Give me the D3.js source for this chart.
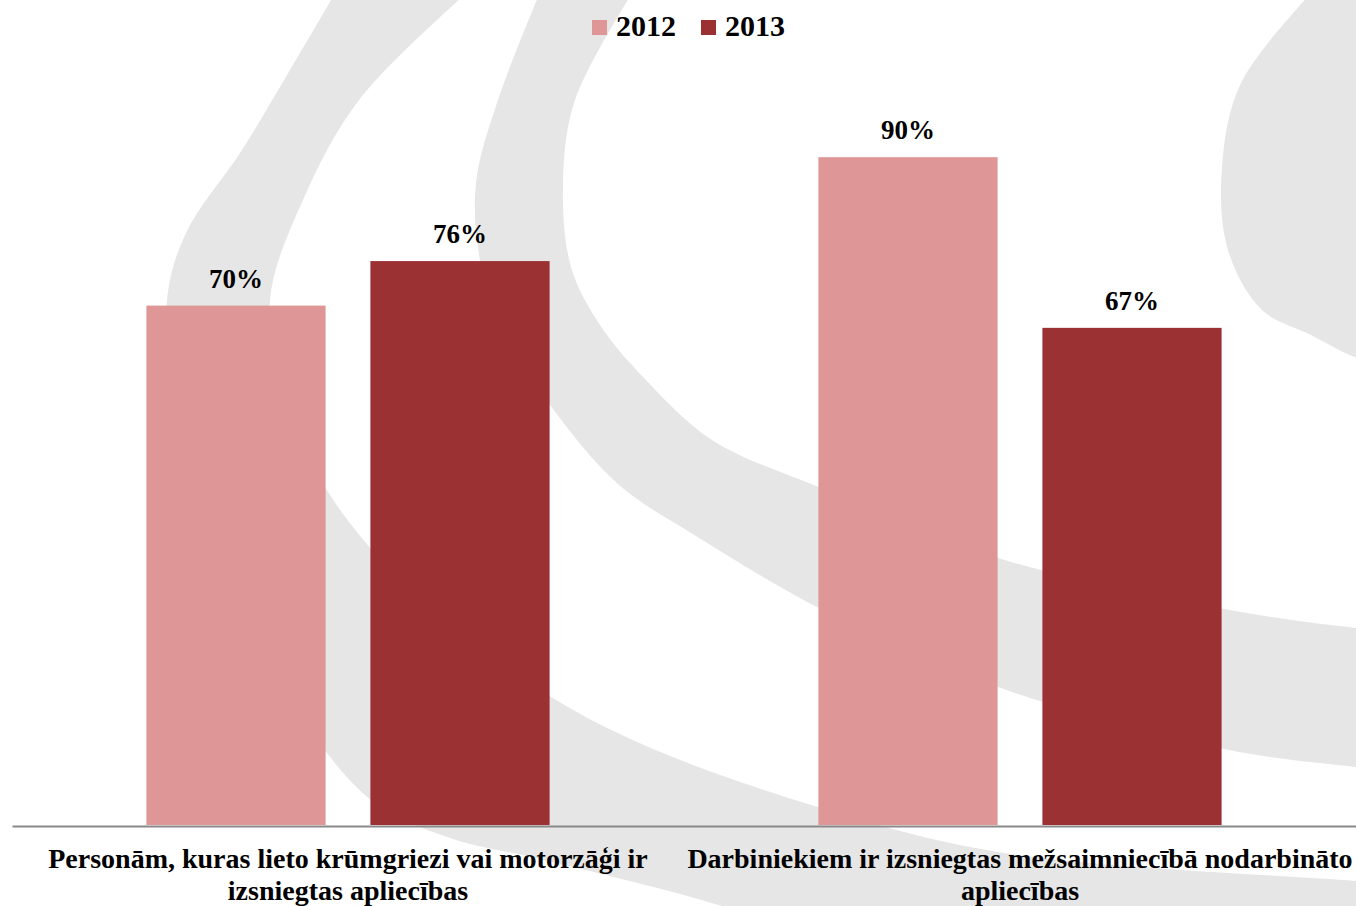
<!DOCTYPE html>
<html>
<head>
<meta charset="utf-8">
<script src="https://cdn.jsdelivr.net/npm/d3@7"></script>
<style>
  html, body { margin: 0; padding: 0; background: #ffffff; }
  svg { display: block; }
  text { font-family: "Liberation Serif", "Times New Roman", serif; font-weight: bold; fill: #000; }
</style>
</head>
<body>
<svg id="chart" width="1356" height="906"></svg>
<script>
// ---- data ----
const categories = [
  ["Personām, kuras lieto krūmgriezi vai motorzāģi ir", "izsniegtas apliecības"],
  ["Darbiniekiem ir izsniegtas mežsaimniecībā nodarbināto", "apliecības"]
];
const categoryKeys = ["c1", "c2"];
const series = ["2012", "2013"];
const values2012 = [70, 90];
const values2013 = [76, 67];
const colors = ["#de9697", "#9b3133"];

// decorative background watermark bands (outline points)
const bandAOuter = [[337,-10],[290,70],[242,150],[186,233],[167,300],[175,420],[215,560],[290,700],[371,800],[450,838],[540,859],[722,906],[800,935]];
const bandAInner = [[1420,886],[1357,881],[998,852],[821,808],[644,745],[540,690],[420,600],[330,495],[285,400],[270,300],[303,200],[359,100],[470,-10]];
const bandBOuter = [[541,-10],[498,100],[476,183],[480,260],[505,335],[550,405],[618,484],[696,536],[821,609],[998,687],[1224,749],[1357,767],[1420,772]];
const bandBInner = [[1420,632],[1357,628],[1224,609],[998,558],[821,488],[712,440],[644,378],[600,325],[571,267],[563,183],[575,100],[634,-10]];
const bandC = [[1314,-10],[1241,83],[1222,167],[1228,250],[1262,310],[1311,335],[1357,358],[1420,375]];

const svg = d3.select("#chart");

// background
const bg = svg.append("g");
const curve = d3.line().curve(d3.curveCatmullRom.alpha(0.5));
bg.append("path").attr("d", curve(bandAOuter) + "L1420,960" + curve(bandAInner).replace(/^M/, "L") + "Z").attr("fill", "#e6e6e6");
bg.append("path").attr("d", curve(bandBOuter) + curve(bandBInner).replace(/^M/, "L") + "Z").attr("fill", "#e6e6e6");
bg.append("path").attr("d", curve(bandC) + "L1420,-10Z").attr("fill", "#e6e6e6");

// scales
const x0 = d3.scaleBand().domain(categoryKeys).range([12, 1356]).paddingInner(0).paddingOuter(0);
const x1 = d3.scaleBand().domain(series).range([0, x0.bandwidth()]).paddingInner(0.2).paddingOuter(0.6);
const y = d3.scaleLinear().domain([0, 100]).range([825, 83]);
const color = d3.scaleOrdinal().domain(series).range(colors);

const rows = categoryKeys.map((k, i) => ({key: k, vals: [
  {s: "2012", v: values2012[i]},
  {s: "2013", v: values2013[i]}
]}));

const groups = svg.append("g").selectAll("g").data(rows).join("g")
  .attr("transform", d => `translate(${x0(d.key)},0)`);

groups.selectAll("rect").data(d => d.vals).join("rect")
  .attr("x", d => x1(d.s))
  .attr("y", d => y(d.v))
  .attr("width", x1.bandwidth())
  .attr("height", d => y(0) - y(d.v))
  .attr("fill", d => color(d.s));

groups.selectAll("text.val").data(d => d.vals).join("text")
  .attr("class", "val")
  .attr("x", d => x1(d.s) + x1.bandwidth() / 2)
  .attr("y", d => y(d.v) - 18)
  .attr("text-anchor", "middle")
  .style("font-size", "27px")
  .text(d => d.v + "%");

// x axis
const xAxis = d3.axisBottom(x0).tickSize(0).tickFormat("");
const ax = svg.append("g").attr("transform", `translate(0,${y(0) + 1})`).call(xAxis);
ax.select(".domain").attr("stroke", "#898989").attr("stroke-width", 2);

// category labels
categoryKeys.forEach((k, i) => {
  const cx = x0(k) + x0.bandwidth() / 2;
  const t = svg.append("text")
    .attr("x", cx)
    .attr("y", 868)
    .attr("text-anchor", "middle")
    .style("font-size", "28px");
  categories[i].forEach((line, j) => {
    t.append("tspan").attr("x", cx).attr("dy", j === 0 ? 0 : 32).text(line);
  });
});

// legend
const legendX = [592, 701];
const lg = svg.append("g");
series.forEach((s, i) => {
  lg.append("rect").attr("x", legendX[i]).attr("y", 20).attr("width", 15).attr("height", 15).attr("fill", color(s));
  lg.append("text").attr("x", legendX[i] + 24).attr("y", 36).style("font-size", "30px").text(s);
});
</script>
</body>
</html>
